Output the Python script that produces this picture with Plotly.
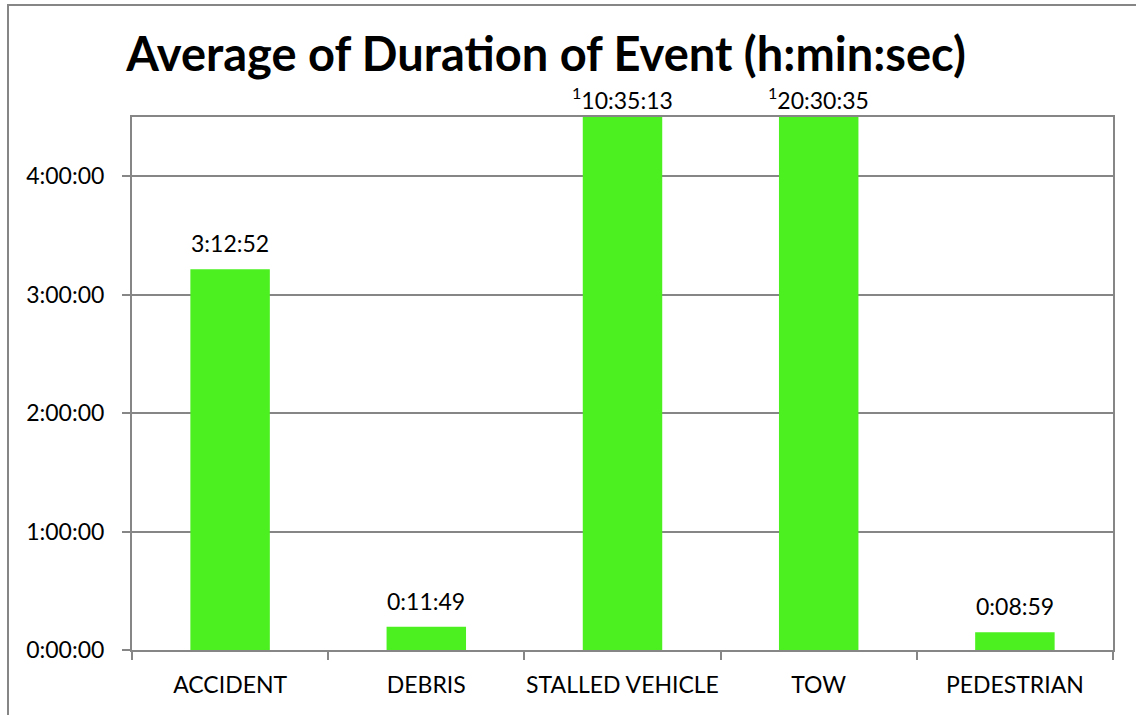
import plotly.graph_objects as go

categories = ["ACCIDENT", "DEBRIS", "STALLED VEHICLE", "TOW", "PEDESTRIAN"]
durations = ["3:12:52", "0:11:49", "10:35:13", "20:30:35", "0:08:59"]
footnote = ["", "", "1", "1", ""]
tick_hours = [0, 1, 2, 3, 4]
tick_labels = ["0:00:00", "1:00:00", "2:00:00", "3:00:00", "4:00:00"]
y_max = 4.5

def to_hours(s):
    h, m, sec = (int(p) for p in s.split(":"))
    return h + m / 60 + sec / 3600

values = [to_hours(d) for d in durations]

FONT = "Lato"
GREEN = "#4CF020"
GRAY = "#868686"
FS = 23

fig = go.Figure()
fig.add_trace(go.Bar(
    x=categories, y=values,
    marker=dict(color=GREEN, line=dict(width=0)),
    cliponaxis=True, hoverinfo="skip",
))

for c, v, d, f in zip(categories, values, durations, footnote):
    txt = (f"<sup>{f}</sup>" if f else "") + d
    fig.add_annotation(
        x=c, y=min(v, y_max), xref="x", yref="y", text=txt,
        showarrow=False, yanchor="bottom", yshift=10 if not f else 1,
        font=dict(family=FONT, size=FS, color="#000000"),
    )

W, H = 1136, 715
L, R, T, B = 132, 23, 117, 65
fig.update_layout(
    width=W, height=H,
    margin=dict(l=L, r=R, t=T, b=B, autoexpand=False),
    paper_bgcolor="white", plot_bgcolor="white",
    showlegend=False, bargap=0.595,
    font=dict(family=FONT, size=FS, color="#000000"),
    title=dict(text="<b>Average of Duration of Event (h:min:sec)</b>",
               x=546 / W, xanchor="center", xref="container",
               y=1 - 55 / H, yanchor="middle", yref="container",
               font=dict(family=FONT, size=47, color="#000000")),
)
fig.update_xaxes(
    showline=True, linecolor=GRAY, linewidth=2, mirror=True,
    ticks="outside", tickson="boundaries", ticklen=8, tickcolor=GRAY, tickwidth=2,
    showgrid=False, tickfont=dict(family=FONT, size=FS), fixedrange=True,
    ticklabelstandoff=13, tickangle=0, automargin=False,
)
fig.update_yaxes(
    range=[0, y_max], tickvals=tick_hours, ticktext=tick_labels,
    showline=True, linecolor=GRAY, linewidth=2, mirror=True,
    ticks="outside", ticklen=8, tickcolor=GRAY, tickwidth=2,
    showgrid=True, gridcolor=GRAY, gridwidth=1.5, zeroline=False,
    tickfont=dict(family=FONT, size=FS), ticklabelstandoff=13, fixedrange=True,
    automargin=False,
)
# outer chart frame (cropped at right and bottom in the reference)
fig.add_shape(type="rect", xref="paper", yref="paper",
              x0=(8 - L) / (W - L - R), x1=(W + 20 - L) / (W - L - R),
              y0=-(B + 20) / (H - T - B), y1=1 + (T - 5) / (H - T - B),
              line=dict(color=GRAY, width=2), layer="below")
fig.write_html("out.html", config={"displayModeBar": False},
               post_script="document.body.style.margin='0';document.body.style.overflow='hidden';")
